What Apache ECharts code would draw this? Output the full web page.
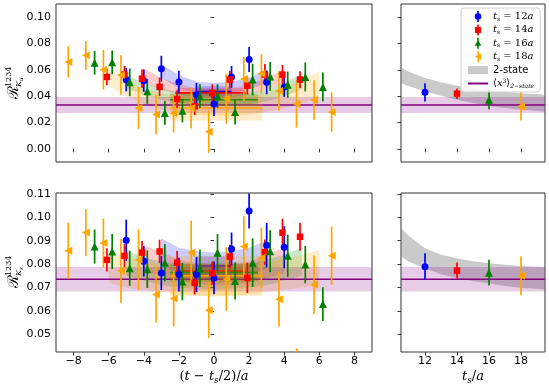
<!DOCTYPE html>
<html>
<head>
<meta charset="utf-8">
<script src="https://cdn.jsdelivr.net/npm/echarts@6/dist/echarts.min.js"></script>
<style>
  html, body { margin: 0; padding: 0; background: #fff; }
  #chart { width: 549px; height: 389px; }
</style>
</head>
<body>
<div id="chart"></div>
<script>
// ---- data ----
// tick labels
const xTicksLeft = [-8, -6, -4, -2, 0, 2, 4, 6, 8];
const xTicksRight = [12, 14, 16, 18];
const yTicksU = [0, 0.02, 0.04, 0.06, 0.08, 0.10];
const yTicksS = [0.05, 0.06, 0.07, 0.08, 0.09, 0.10, 0.11];

// K_u ratio vs (t - ts/2)/a : [x, value, error]
const ku12 = [[-5, 0.0526, 0.009], [-4, 0.0518, 0.0085], [-3, 0.0609, 0.0098], [-2, 0.0508, 0.0085], [-1, 0.0411, 0.009],
  [0, 0.034, 0.009], [1, 0.0546, 0.0083], [2, 0.0678, 0.0095], [3, 0.0505, 0.009], [4, 0.047, 0.0076]];
const ku14 = [[-6.1, 0.0546, 0.0064], [-5.1, 0.0564, 0.0065], [-4.1, 0.0533, 0.007], [-3.1, 0.047, 0.007], [-2.1, 0.0378, 0.0067],
  [-1.1, 0.0322, 0.0065], [-0.1, 0.0424, 0.0065], [0.9, 0.0526, 0.0067], [1.9, 0.048, 0.0067], [2.9, 0.0564, 0.008],
  [3.9, 0.0564, 0.0074], [4.9, 0.0526, 0.0064]];
const ku16 = [[-6.8, 0.0653, 0.009], [-5.8, 0.0657, 0.009], [-4.8, 0.0505, 0.0105], [-3.8, 0.0437, 0.0095], [-2.8, 0.0272, 0.009],
  [-1.8, 0.029, 0.009], [-0.8, 0.040, 0.009], [0.2, 0.040, 0.009], [1.2, 0.028, 0.0095], [2.2, 0.0526, 0.012],
  [3.2, 0.055, 0.011], [4.2, 0.0487, 0.010], [5.2, 0.0546, 0.011], [6.2, 0.047, 0.011]];
const ku18 = [[-8.3, 0.066, 0.012], [-7.3, 0.071, 0.011], [-6.3, 0.060, 0.015], [-5.3, 0.056, 0.015], [-4.3, 0.031, 0.016],
  [-3.3, 0.026, 0.015], [-2.3, 0.027, 0.0145], [-1.3, 0.031, 0.0155], [-0.3, 0.013, 0.016], [0.7, 0.038, 0.019],
  [1.7, 0.053, 0.017], [2.7, 0.057, 0.015], [3.7, 0.044, 0.015], [4.7, 0.034, 0.018], [5.7, 0.037, 0.015], [6.7, 0.028, 0.015]];

// K_s ratio
const ks12 = [[-5, 0.0902, 0.0088], [-4, 0.0812, 0.0065], [-3, 0.0762, 0.0073], [-2, 0.0755, 0.0072], [-1, 0.0755, 0.0075],
  [0, 0.0741, 0.007], [1, 0.0865, 0.007], [2, 0.1027, 0.0075], [3, 0.0881, 0.0095], [4, 0.0872, 0.009]];
const ks14 = [[-6.1, 0.0818, 0.005], [-5.1, 0.0835, 0.005], [-4.1, 0.0849, 0.005], [-3.1, 0.0854, 0.005], [-2.1, 0.0806, 0.005],
  [-1.1, 0.072, 0.005], [-0.1, 0.0761, 0.005], [0.9, 0.0832, 0.005], [1.9, 0.0741, 0.0065], [2.9, 0.0851, 0.0054],
  [3.9, 0.0934, 0.006], [4.9, 0.0917, 0.006]];
const ks16 = [[-6.8, 0.0875, 0.0073], [-5.8, 0.0854, 0.0075], [-4.8, 0.0782, 0.0075], [-3.8, 0.0778, 0.008], [-2.8, 0.0806, 0.008],
  [-1.8, 0.0725, 0.008], [-0.8, 0.0782, 0.008], [0.2, 0.0849, 0.008], [1.2, 0.0728, 0.008], [2.2, 0.0806, 0.0104],
  [3.2, 0.0855, 0.009], [4.2, 0.0836, 0.009], [5.2, 0.0798, 0.008], [6.2, 0.0629, 0.0072]];
const ks18 = [[-8.3, 0.0857, 0.012], [-7.3, 0.0935, 0.010], [-6.3, 0.089, 0.0105], [-5.3, 0.0771, 0.0136], [-4.3, 0.0818, 0.013],
  [-3.3, 0.067, 0.012], [-2.3, 0.0653, 0.012], [-1.3, 0.0849, 0.0137], [-0.3, 0.0603, 0.012], [0.7, 0.0736, 0.0136],
  [1.7, 0.0875, 0.013], [2.7, 0.0826, 0.013], [3.7, 0.065, 0.0117], [4.7, 0.034, 0.010], [5.7, 0.0712, 0.0125], [6.7, 0.0836, 0.0125]];

// 2-state fit bands per ts: [x, low, high]
const kuFit12 = [[-3, 0.054, 0.064], [-2, 0.046, 0.056], [-1, 0.042, 0.051], [0, 0.041, 0.050], [1, 0.042, 0.051], [2, 0.045, 0.054], [3, 0.050, 0.060]];
const kuFit14 = [[-4, 0.050, 0.061], [-3, 0.045, 0.054], [-2, 0.041, 0.049], [-1, 0.039, 0.046], [0, 0.038, 0.045], [1, 0.039, 0.046], [2, 0.041, 0.049], [3, 0.045, 0.054], [4, 0.050, 0.060]];
const kuFit16 = [[-5, 0.046, 0.056], [-4, 0.041, 0.050], [-3, 0.037, 0.046], [-2, 0.035, 0.043], [-1, 0.034, 0.042], [0, 0.033, 0.041], [1, 0.033, 0.041], [2, 0.034, 0.042], [3, 0.036, 0.045], [4, 0.040, 0.050], [5, 0.045, 0.057]];
const kuFit18 = [[-6, 0.048, 0.060], [-5, 0.040, 0.052], [-4, 0.034, 0.046], [-3, 0.030, 0.042], [-2, 0.027, 0.040], [-1, 0.026, 0.039], [0, 0.025, 0.038], [1, 0.025, 0.039], [2, 0.026, 0.040], [3, 0.028, 0.043], [4, 0.031, 0.047], [5, 0.035, 0.052], [6, 0.039, 0.059]];
const ksFit12 = [[-3, 0.079, 0.091], [-2, 0.076, 0.087], [-1, 0.074, 0.0855], [0, 0.0735, 0.085], [1, 0.074, 0.0855], [2, 0.075, 0.087], [3, 0.078, 0.090]];
const ksFit14 = [[-4, 0.077, 0.088], [-3, 0.075, 0.085], [-2, 0.073, 0.082], [-1, 0.0715, 0.0805], [0, 0.071, 0.080], [1, 0.0712, 0.0802], [2, 0.072, 0.081], [3, 0.074, 0.084], [4, 0.076, 0.087]];
const ksFit16 = [[-5, 0.075, 0.086], [-4, 0.073, 0.083], [-3, 0.071, 0.081], [-2, 0.070, 0.080], [0, 0.069, 0.079], [2, 0.070, 0.080], [3, 0.071, 0.082], [4, 0.073, 0.084], [5, 0.075, 0.087]];
const ksFit18 = [[-6, 0.072, 0.085], [-5, 0.070, 0.083], [-4, 0.069, 0.081], [-2, 0.067, 0.079], [0, 0.066, 0.078], [2, 0.067, 0.079], [4, 0.069, 0.082], [5, 0.070, 0.084], [6, 0.071, 0.086]];

// constant fits: [x start, x end, value, error]
const kuConst12 = [-1, 1, 0.0435, 0.004];
const kuConst14 = [-2.2, 1.8, 0.0425, 0.0035];
const kuConst16 = [-2.5, 2.5, 0.0373, 0.0045];
const kuConst18 = [-2.5, 2.75, 0.031, 0.0095];
const ksConst12 = [-1, 1, 0.0792, 0.004];
const ksConst14 = [-2.2, 1.8, 0.0770, 0.003];
const ksConst16 = [-2.5, 2.5, 0.0764, 0.004];
const ksConst18 = [-2.5, 2.75, 0.0750, 0.0085];

// <x^3> 2-state result: [value, error]
const kuAvg = [0.0333, 0.006];
const ksAvg = [0.0735, 0.0052];

// right panels, vs ts/a : [ts, value, error]
const kuTs = [[12, 0.0429, 0.007], [14, 0.0419, 0.004], [16, 0.0373, 0.0073], [18, 0.0322, 0.0107]];
const ksTs = [[12, 0.0789, 0.0057], [14, 0.0772, 0.0035], [16, 0.0763, 0.0055], [18, 0.0750, 0.0083]];
const kuTsFit = [[10.5, 0.050, 0.0615], [11, 0.0475, 0.0585], [12, 0.0437, 0.0538], [13, 0.0403, 0.0505], [14, 0.0373, 0.048],
  [15, 0.0348, 0.0458], [16, 0.0327, 0.0444], [17, 0.031, 0.0432], [18, 0.0297, 0.0423], [19.5, 0.0284, 0.0411]];
const ksTsFit = [[10.5, 0.0832, 0.0954], [11, 0.0810, 0.0920], [12, 0.0782, 0.0868], [13, 0.0757, 0.0840], [14, 0.0739, 0.0825],
  [15, 0.0727, 0.0812], [16, 0.0718, 0.0804], [17, 0.0706, 0.0797], [18, 0.0699, 0.0792], [19.5, 0.0692, 0.0787]];

// ---- styling ----
const names = ['ts12', 'ts14', 'ts16', 'ts18'];
const colors = ['#0000ff', '#ff0000', '#008000', '#ffa500'];
const rgb = ['0,0,255', '255,0,0', '0,128,0', '255,165,0'];
const symbols = ['circle', 'rect', 'triangle', 'triangle'];
const symRot = [0, 0, 0, 90];
const symSize = [7, 6.5, 8, 8];
const mathFont = 'DejaVu Serif';

function bandSeries(band, gi, fill, name) {
  return {
    type: 'custom', name: name, xAxisIndex: gi, yAxisIndex: gi, data: band, clip: true, silent: true, z: 1,
    itemStyle: { color: fill }, encode: { x: 0, y: [1, 2] },
    renderItem: function (p, api) {
      if (p.dataIndex !== 0) return null;
      const up = band.map(d => api.coord([d[0], d[2]]));
      const lo = band.map(d => api.coord([d[0], d[1]])).reverse();
      return { type: 'polygon', shape: { points: up.concat(lo) }, style: { fill: fill } };
    }
  };
}

function constSeries(c, gi, color, fill, name) {
  return {
    type: 'custom', name: name, xAxisIndex: gi, yAxisIndex: gi, data: [c], clip: true, silent: true, z: 2,
    itemStyle: { color: color }, encode: { x: [0, 1], y: 2 },
    renderItem: function (p, api) {
      const x0 = api.value(0), x1 = api.value(1), y = api.value(2), e = api.value(3);
      const a = api.coord([x0, y + e]), b = api.coord([x1, y - e]);
      const m0 = api.coord([x0, y]), m1 = api.coord([x1, y]);
      return {
        type: 'group', children: [
          { type: 'rect', shape: { x: a[0], y: a[1], width: b[0] - a[0], height: b[1] - a[1] }, style: { fill: fill } },
          { type: 'line', shape: { x1: m0[0], y1: m0[1], x2: m1[0], y2: m1[1] }, style: { stroke: color, lineWidth: 1.6 } }
        ]
      };
    }
  };
}

function pointSeries(data, gi, k) {
  return [{
    type: 'custom', xAxisIndex: gi, yAxisIndex: gi, data: data, clip: true, silent: true, z: 3,
    encode: { x: 0, y: 1 },
    renderItem: function (p, api) {
      const x = api.value(0), y = api.value(1), e = api.value(2);
      const a = api.coord([x, y - e]), b = api.coord([x, y + e]);
      return { type: 'line', shape: { x1: a[0], y1: a[1], x2: b[0], y2: b[1] }, style: { stroke: colors[k], lineWidth: 1.7 } };
    }
  }, {
    type: 'scatter', name: names[k], xAxisIndex: gi, yAxisIndex: gi, z: 3, silent: true,
    data: data.map(d => [d[0], d[1]]),
    symbol: symbols[k], symbolRotate: symRot[k], symbolSize: symSize[k],
    itemStyle: { color: colors[k], opacity: 1 }
  }];
}

const series = [];
const kuPts = [ku12, ku14, ku16, ku18], ksPts = [ks12, ks14, ks16, ks18];
const kuFits = [kuFit12, kuFit14, kuFit16, kuFit18], ksFits = [ksFit12, ksFit14, ksFit16, ksFit18];
const kuConsts = [kuConst12, kuConst14, kuConst16, kuConst18], ksConsts = [ksConst12, ksConst14, ksConst16, ksConst18];

// purple bands across all panels
const purpleFill = 'rgba(128,0,128,0.2)';
series.push(constSeries([-9, 9, kuAvg[0], kuAvg[1]], 0, '#800080', purpleFill, 'xavg'));
series.push(constSeries([10.5, 19.5, kuAvg[0], kuAvg[1]], 1, '#800080', purpleFill, 'xavg'));
series.push(constSeries([-9, 9, ksAvg[0], ksAvg[1]], 2, '#800080', purpleFill, 'xavg'));
series.push(constSeries([10.5, 19.5, ksAvg[0], ksAvg[1]], 3, '#800080', purpleFill, 'xavg'));

for (let k = 0; k < 4; k++) {
  series.push(bandSeries(kuFits[k], 0, 'rgba(' + rgb[k] + ',0.2)'));
  series.push(bandSeries(ksFits[k], 2, 'rgba(' + rgb[k] + ',0.2)'));
}
for (let k = 0; k < 4; k++) {
  series.push(constSeries(kuConsts[k], 0, colors[k], 'rgba(' + rgb[k] + ',0.22)'));
  series.push(constSeries(ksConsts[k], 2, colors[k], 'rgba(' + rgb[k] + ',0.22)'));
}
series.push(bandSeries(kuTsFit, 1, 'rgba(128,128,128,0.42)', '2-state'));
series.push(bandSeries(ksTsFit, 3, 'rgba(128,128,128,0.42)', '2-state'));

for (let k = 0; k < 4; k++) {
  series.push(...pointSeries(kuPts[k], 0, k));
  series.push(...pointSeries(ksPts[k], 2, k));
  series.push(...pointSeries([kuTs[k]], 1, k));
  series.push(...pointSeries([ksTs[k]], 3, k));
}

const tickStyle = { show: true, length: 3.5, lineStyle: { color: '#333', width: 1 } };
const labelBase = { fontFamily: 'DejaVu Sans', fontSize: 11, color: '#000' };
const mathRich = {
  n: { fontFamily: mathFont, fontSize: 13, color: '#000' },
  i: { fontFamily: mathFont, fontStyle: 'italic', fontSize: 13, color: '#000' },
  s: { fontFamily: mathFont, fontStyle: 'italic', fontSize: 9, color: '#000', padding: [7, 0, 0, 0] }
};

function xAx(gi, min, max, ticks, labels, name) {
  return {
    type: 'value', gridIndex: gi, min: min, max: max, splitLine: { show: false },
    axisLine: { show: false },
    axisTick: Object.assign({ customValues: ticks }, tickStyle),
    axisLabel: Object.assign({ show: labels, customValues: ticks, margin: 4,
      formatter: v => (v < 0 ? '\u2212' : '') + Math.abs(v) }, labelBase),
    name: name || '', nameLocation: 'middle', nameGap: 17,
    nameTextStyle: { rich: mathRich }
  };
}
function yAx(gi, min, max, ticks, labels) {
  return {
    type: 'value', gridIndex: gi, min: min, max: max, splitLine: { show: false },
    axisLine: { show: false },
    axisTick: Object.assign({ customValues: ticks }, tickStyle),
    axisLabel: Object.assign({ show: labels, customValues: ticks, margin: 5,
      formatter: v => v.toFixed(2) }, labelBase)
  };
}

const legendText = {
  ts12: '{i|t}{s|s}{n| = 12}{i|a}',
  ts14: '{i|t}{s|s}{n| = 14}{i|a}',
  ts16: '{i|t}{s|s}{n| = 16}{i|a}',
  ts18: '{i|t}{s|s}{n| = 18}{i|a}',
  '2-state': '{g|2-state}',
  xavg: '{n|\u27E8}{i|x}{p|3}{n|\u27E9}{s|2\u2212state}'
};
const bar = 'M8.5,0 H11.5 V20 H8.5 Z ';

// rotated y-axis label: R^{1234}_{K_x}
function yName(cx, cy, sub) {
  return {
    type: 'group', x: cx, y: cy + 16, rotation: Math.PI / 2, silent: true,
    children: [
      { type: 'text', x: 0, y: 0, style: { text: '\u211B', font: '15px ' + mathFont, verticalAlign: 'middle', fill: '#000' } },
      { type: 'text', x: 12, y: -5, style: { text: '1234', font: '8px ' + mathFont, verticalAlign: 'middle', fill: '#000' } },
      { type: 'text', x: 12, y: 5, style: { text: 'K', font: 'italic 8px ' + mathFont, verticalAlign: 'middle', fill: '#000' } },
      { type: 'text', x: 18, y: 7.5, style: { text: sub, font: 'italic 5.5px ' + mathFont, verticalAlign: 'middle', fill: '#000' } }
    ]
  };
}

const chart = echarts.init(document.getElementById('chart'), null, { renderer: 'canvas', width: 549, height: 389 });
chart.setOption({
  animation: false,
  backgroundColor: '#fff',
  grid: [
    { left: 56, top: 4, width: 316, height: 158 },
    { left: 401, top: 4, width: 144, height: 158 },
    { left: 56, top: 193, width: 316, height: 159 },
    { left: 401, top: 193, width: 144, height: 159 }
  ].map(g => Object.assign({ show: true, borderColor: '#333', borderWidth: 1, backgroundColor: 'transparent' }, g)),
  xAxis: [
    xAx(0, -9, 9, xTicksLeft, false),
    xAx(1, 10.5, 19.5, xTicksRight, false),
    xAx(2, -9, 9, xTicksLeft, true, '{n|(}{i|t}{n| \u2212 }{i|t}{s|s}{n|/2)/}{i|a}'),
    xAx(3, 10.5, 19.5, xTicksRight, true, '{i|t}{s|s}{n|/}{i|a}')
  ],
  yAxis: [
    yAx(0, -0.01, 0.11, yTicksU, true),
    yAx(1, -0.01, 0.11, yTicksU, false),
    yAx(2, 0.0424, 0.1104, yTicksS, true),
    yAx(3, 0.0424, 0.1104, yTicksS, false)
  ],
  legend: {
    left: 461, top: 8, orient: 'vertical', selectedMode: false,
    itemWidth: 20, itemHeight: 11, itemGap: 2.4,
    padding: [3, 6, 3, 7],
    backgroundColor: 'rgba(255,255,255,0.8)', borderColor: '#d0d0d0', borderWidth: 1, borderRadius: 3,
    data: [
      { name: 'ts12', icon: 'path://' + bar + 'M4,10 A6,6 0 1,1 16,10 A6,6 0 1,1 4,10 Z' },
      { name: 'ts14', icon: 'path://' + bar + 'M4.5,4.5 H15.5 V15.5 H4.5 Z' },
      { name: 'ts16', icon: 'path://' + bar + 'M10,3.5 L16,14.5 L4,14.5 Z' },
      { name: 'ts18', icon: 'path://' + bar + 'M4,10 L15,4 L15,16 Z' },
      { name: '2-state', icon: 'path://M0,0 H20 V8 H0 Z', itemStyle: { color: 'rgba(128,128,128,0.42)' } },
      { name: 'xavg', icon: 'path://M0,0 H20 V2 H0 Z', itemStyle: { color: '#800080' } }
    ],
    formatter: name => legendText[name],
    textStyle: {
      color: '#000', fontSize: 10, lineHeight: 11,
      rich: {
        n: { fontFamily: mathFont, fontSize: 10 },
        i: { fontFamily: mathFont, fontStyle: 'italic', fontSize: 10 },
        s: { fontFamily: mathFont, fontStyle: 'italic', fontSize: 6, padding: [5, 0, 0, 0] },
        p: { fontFamily: mathFont, fontSize: 6, padding: [0, 0, 5, 0] },
        g: { fontFamily: 'DejaVu Sans', fontSize: 10 }
      }
    }
  },
  graphic: [yName(14, 83, 'u'), yName(14, 272, 's')],
  series: series
});
</script>
</body>
</html>
